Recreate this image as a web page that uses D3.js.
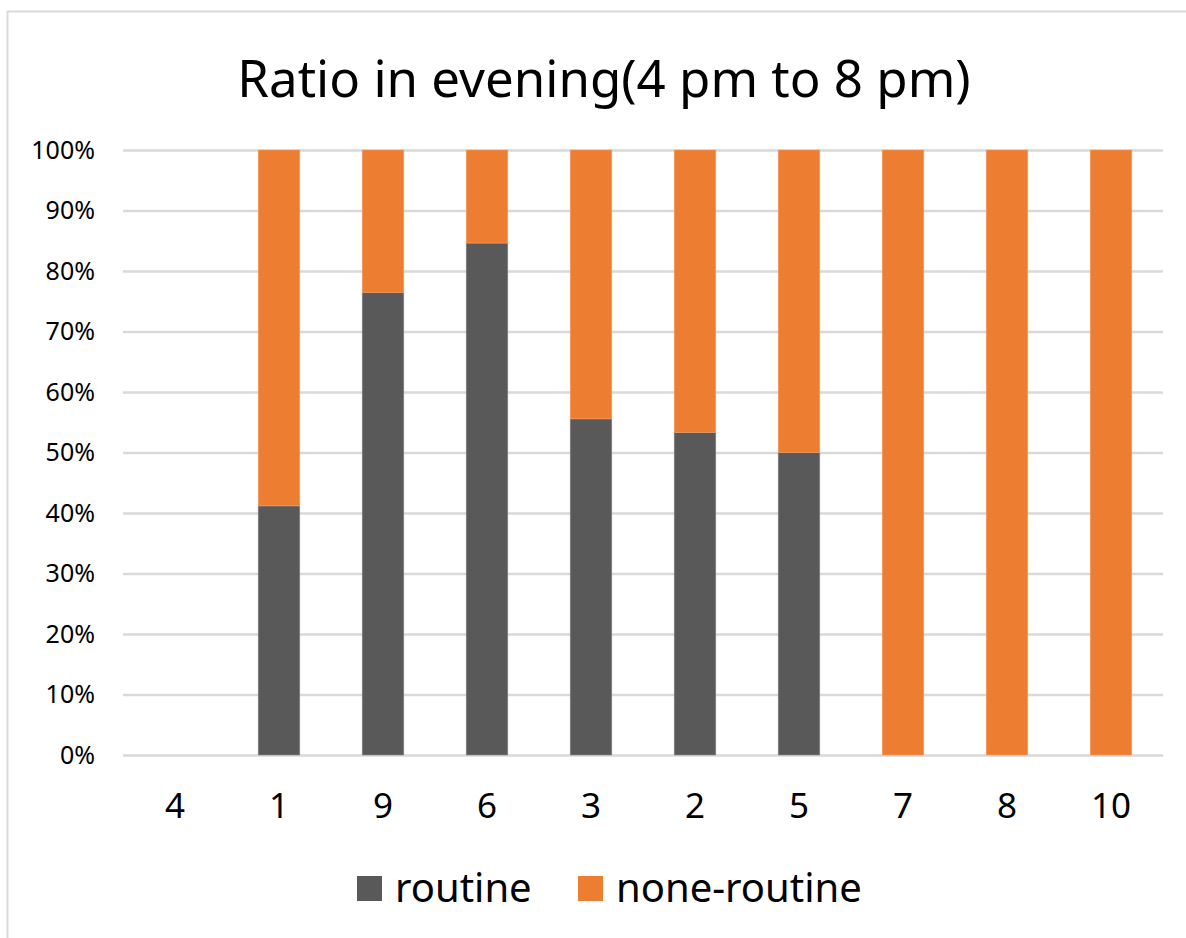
<!DOCTYPE html>
<html>
<head>
<meta charset="utf-8">
<script src="https://cdn.jsdelivr.net/npm/d3@7"></script>
<style>
  html, body { margin: 0; padding: 0; background: #fff; }
  svg { display: block; font-family: "Noto Sans", "Open Sans", sans-serif; }
</style>
</head>
<body>
<svg id="chart" width="1186" height="938"></svg>
<script>
const categories = ["4", "1", "9", "6", "3", "2", "5", "7", "8", "10"];
const routine = [0, 0.4118, 0.7647, 0.8462, 0.5556, 0.5333, 0.5, 0, 0, 0];
const noneRoutine = [0, 0.5882, 0.2353, 0.1538, 0.4444, 0.4667, 0.5, 1, 1, 1];
const seriesNames = ["routine", "none-routine"];
const seriesColors = ["#595959", "#ED7D31"];
const yTicks = [0, 0.1, 0.2, 0.3, 0.4, 0.5, 0.6, 0.7, 0.8, 0.9, 1.0];
const title = "Ratio in evening(4 pm to 8 pm)";

const svg = d3.select("#chart");
const W = 1186, H = 938;

// frame
svg.append("path")
  .attr("d", `M${W},11.5 L7.5,11.5 L7.5,${H}`)
  .attr("fill", "none").attr("stroke", "#d9d9d9").attr("stroke-width", 2);

const plot = { left: 123, right: 1163, top: 150, bottom: 755 };

const x = d3.scaleBand().domain(categories).range([plot.left, plot.right]).paddingInner(0.6).paddingOuter(0.3);
const y = d3.scaleLinear().domain([0, 1]).range([plot.bottom, plot.top]);

// title
svg.append("text")
  .attr("x", 604).attr("y", 97)
  .attr("text-anchor", "middle")
  .attr("font-size", 51)
  .attr("fill", "#000")
  .text(title);

// gridlines
const yAxis = d3.axisLeft(y).tickValues(yTicks).tickFormat(d3.format(".0%")).tickSize(-(plot.right - plot.left)).tickPadding(28);
const gy = svg.append("g").attr("transform", `translate(${plot.left},0)`).call(yAxis);
gy.select(".domain").remove();
gy.selectAll(".tick line").attr("stroke", "#d9d9d9").attr("stroke-width", 2.5);
gy.selectAll(".tick text").attr("font-size", 25).attr("fill", "#000").attr("font-family", "\"Noto Sans\", sans-serif");

// stacked data
const data = categories.map((c, i) => ({ cat: c, routine: routine[i], none: noneRoutine[i] }));
const stack = d3.stack().keys(["routine", "none"])(data);

stack.forEach((layer, li) => {
  svg.append("g").selectAll("rect").data(layer).join("rect")
    .attr("x", d => x(d.data.cat))
    .attr("width", x.bandwidth())
    .attr("y", d => y(d[1]))
    .attr("height", d => Math.max(0, y(d[0]) - y(d[1])))
    .attr("fill", seriesColors[li])
    .attr("stroke", li === 0 ? "#8a8a8a" : "#f5a26d")
    .attr("stroke-width", 0.6);
});

// x axis
const xAxis = d3.axisBottom(x).tickSize(0).tickPadding(38);
const gx = svg.append("g").attr("transform", `translate(0,${plot.bottom})`).call(xAxis);
gx.select(".domain").remove();
gx.selectAll(".tick text").attr("font-size", 35).attr("fill", "#000").attr("font-family", "\"Noto Sans\", sans-serif");

// legend
const legendItems = [
  { name: seriesNames[0], color: seriesColors[0], x: 357 },
  { name: seriesNames[1], color: seriesColors[1], x: 578 }
];
const lg = svg.append("g");
legendItems.forEach(it => {
  lg.append("rect").attr("x", it.x).attr("y", 876).attr("width", 25).attr("height", 25).attr("fill", it.color);
  lg.append("text").attr("x", it.x + 38).attr("y", 902).attr("font-size", 40).attr("fill", "#000").text(it.name);
});
</script>
</body>
</html>
